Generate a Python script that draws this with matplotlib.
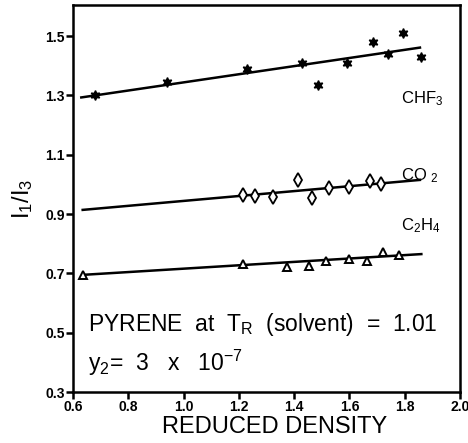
import numpy as np
import matplotlib.pyplot as plt

plt.rcParams['font.family'] = ['Liberation Sans', 'DejaVu Sans']
plt.rcParams['mathtext.fontset'] = 'custom'
plt.rcParams['mathtext.rm'] = 'Liberation Sans'
plt.rcParams['mathtext.it'] = 'Liberation Sans'

# data
chf3_x = [0.68, 0.94, 1.23, 1.43, 1.485, 1.59, 1.685, 1.74, 1.795, 1.86]
chf3_y = [1.30, 1.345, 1.39, 1.41, 1.335, 1.41, 1.48, 1.44, 1.51, 1.43]
chf3_fit_x = [0.63, 1.855]
chf3_fit_y = [1.293, 1.461]

co2_x = [1.215, 1.26, 1.325, 1.415, 1.465, 1.525, 1.60, 1.675, 1.715]
co2_y = [0.965, 0.96, 0.958, 1.015, 0.955, 0.988, 0.992, 1.012, 1.0]
co2_fit_x = [0.635, 1.855]
co2_fit_y = [0.914, 1.015]

c2h4_x = [0.635, 1.215, 1.375, 1.455, 1.515, 1.60, 1.665, 1.72, 1.78]
c2h4_y = [0.695, 0.733, 0.722, 0.725, 0.742, 0.75, 0.742, 0.772, 0.762]
c2h4_fit_x = [0.635, 1.86]
c2h4_fit_y = [0.695, 0.765]

xticks = [0.6, 0.8, 1.0, 1.2, 1.4, 1.6, 1.8, 2.0]
yticks = [0.3, 0.5, 0.7, 0.9, 1.1, 1.3, 1.5]

fig = plt.figure(figsize=(4.68, 4.43), dpi=100)
ax = fig.add_axes([0.156, 0.115, 0.827, 0.874])

ax.plot(chf3_fit_x, chf3_fit_y, color='black', lw=1.8)
ax.plot(co2_fit_x, co2_fit_y, color='black', lw=1.8)
ax.plot(c2h4_fit_x, c2h4_fit_y, color='black', lw=1.8)

ax.plot(chf3_x, chf3_y, ls='none', marker=(6, 1, 0), ms=7, color='black')
ax.plot(co2_x, co2_y, ls='none', marker='d', ms=7.5, mfc='white', mec='black', mew=1.3)
ax.plot(c2h4_x, c2h4_y, ls='none', marker='^', ms=6, mfc='white', mec='black', mew=1.4)

ax.text(1.785, 1.29, 'CHF$_3$', fontsize=12, va='center')
ax.text(1.785, 1.03, 'CO $_2$', fontsize=12, va='center')
ax.text(1.785, 0.86, 'C$_2$H$_4$', fontsize=12, va='center')
ax.text(0.655, 0.527, 'PYRENE  at  T$_R$  (solvent)  =  1.01', fontsize=16.5, va='center')
ax.text(0.655, 0.398, 'y$_2$=  3   x   10$^{-7}$', fontsize=16.5, va='center')

ax.set_xlim(0.6, 2.0)
ax.set_ylim(0.3, 1.605)
ax.set_xticks(xticks)
ax.set_yticks(yticks)
ax.set_xticklabels(['%.1f' % v for v in xticks], fontweight='bold', fontsize=10)
ax.set_yticklabels(['%.1f' % v for v in yticks], fontweight='bold', fontsize=10)
ax.tick_params(direction='out', length=5, width=1.8, pad=1)
for s in ax.spines.values():
    s.set_linewidth(1.8)

ax.set_xlabel('REDUCED DENSITY', fontsize=17)
ax.xaxis.set_label_coords(0.52, -0.062)
ax.set_ylabel('I$_1$/I$_3$', fontsize=17)
ax.yaxis.set_label_coords(-0.098, 0.5)

fig.savefig('out.png', dpi=100)
